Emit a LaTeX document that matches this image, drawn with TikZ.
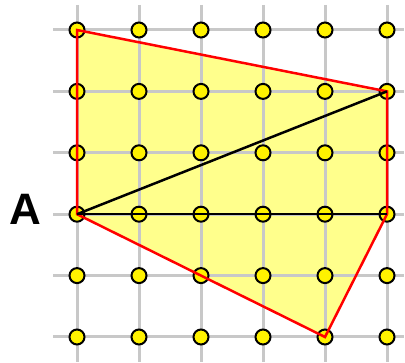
\documentclass[tikz,border=0pt]{standalone}
\usepackage{fontspec}
\setmainfont{Liberation Sans}
\begin{document}
\begin{tikzpicture}[x=1pt,y=-1pt,
  gridline/.style={draw={rgb,255:red,200;green,200;blue,200},line width=3pt},
  dot/.style={circle,draw=black,line width=2pt,fill=yellow,minimum size=15pt,inner sep=0pt},
  redline/.style={draw=red,line width=2.5pt,line join=miter},
  blackline/.style={draw=black,line width=2.5pt}]
\useasboundingbox (0,0) rectangle (405,363);
% grid coordinates
\foreach \i in {0,...,5}{
  \foreach \j in {0,...,5}{
    \coordinate (p\i\j) at ({77+62*\i},{30+61.4*\j});
  }
}
% fill
\fill[fill={rgb,255:red,255;green,255;blue,140}] (p00) -- (p51) -- (p53) -- (p45) -- (p03) -- cycle;
% grid lines
\foreach \i in {0,...,5}{
  \draw[gridline] ({77+62*\i},5) -- ({77+62*\i},362);
  \draw[gridline] (53,{30+61.4*\i}) -- (404,{30+61.4*\i});
}
% dots
\foreach \i in {0,...,5}{
  \foreach \j in {0,...,5}{
    \node[dot] (d\i\j) at (p\i\j) {};
  }
}
% polygon outline
\draw[redline] (p00.center) -- (p51.center) -- (p53.center) -- (p45.center) -- (p03.center) -- cycle;
% black lines
\draw[blackline] (p03) -- (p51);
\draw[blackline] (p03) -- (p53);
% label
\node[font=\bfseries\fontsize{44}{44}\selectfont] (A) at (25,209) {A};
\end{tikzpicture}
\end{document}
